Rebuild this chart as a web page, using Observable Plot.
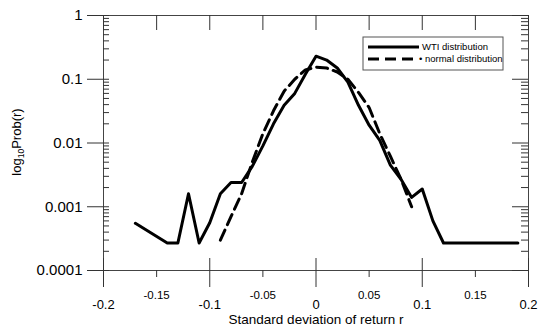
<!DOCTYPE html>
<html><head><meta charset="utf-8">
<script src="https://cdn.jsdelivr.net/npm/d3@7"></script>
<script src="https://cdn.jsdelivr.net/npm/@observablehq/plot@0.6"></script>
<style>
body{margin:0;background:#fff}
svg{font-family:"Liberation Sans",Arial,sans-serif}
</style>
</head><body><div id="chart"></div>
<script>
// WTI empirical distribution
const wtiX = [-0.17,-0.14,-0.13,-0.12,-0.11,-0.10,-0.09,-0.08,-0.07,-0.06,-0.05,-0.04,-0.03,-0.02,-0.01,0,0.01,0.02,0.03,0.04,0.05,0.06,0.07,0.08,0.09,0.10,0.11,0.12,0.19];
const wtiP = [0.00055,0.00027,0.00027,0.0016,0.00027,0.00056,0.0016,0.0024,0.0024,0.0043,0.009,0.02,0.039,0.06,0.12,0.23,0.2,0.15,0.09,0.039,0.019,0.011,0.0045,0.0027,0.0014,0.0019,0.0006,0.00027,0.00027];
// normal distribution
const normX = [-0.09,-0.08,-0.07,-0.06,-0.05,-0.04,-0.03,-0.02,-0.01,0,0.01,0.02,0.03,0.04,0.05,0.06,0.07,0.08,0.09];
const normP = [0.0003,0.0007,0.0016,0.005,0.014,0.032,0.065,0.1,0.14,0.155,0.15,0.13,0.1,0.062,0.036,0.014,0.0062,0.0027,0.001];

const xTicksMajor = [-0.2,-0.1,0,0.1,0.2];
const xLabelsMajor = ["-0.2","-0.1","0","0.1","0.2"];
const xTicksMinor = [-0.15,-0.05,0.05,0.15];
const xLabelsMinor = ["-0.15","-0.05","0.05","0.15"];
const yTicks = [1,0.1,0.01,0.001,0.0001];
const yLabels = ["1","0.1","0.01","0.001","0.0001"];
const yMinor = [];
for (const base of [0.0001,0.001,0.01,0.1]) for (let k = 2; k <= 9; k++) yMinor.push(base*k);

const seriesNames = ["WTI distribution","• normal distribution"];
const xTitle = "Standard deviation of return r";

const wti = wtiX.map((x,i)=>({x, p: wtiP[i]}));
const norm = normX.map((x,i)=>({x, p: normP[i]}));

const W = 538, H = 331, mL = 103, mR = 10, mT = 15, mB = 61;
const pw = W - mL - mR, ph = H - mT - mB;

const chart = Plot.plot({
  width: W, height: H, marginLeft: mL, marginRight: mR, marginTop: mT, marginBottom: mB,
  style: {background: "#fff", color: "#000", fontFamily: "'Liberation Sans', Arial, sans-serif"},
  x: {domain: [-0.2, 0.2], axis: null},
  y: {type: "log", domain: [1e-4, 1], axis: null},
  marks: [
    Plot.frame({stroke: "#444", strokeWidth: 1}),
    // y axis labels + outward major ticks
    Plot.axisY(yTicks, {anchor: "left", label: null, tickSize: 16, tickPadding: 5, fontSize: 15,
      stroke: "#333", tickFormat: d => yLabels[yTicks.indexOf(d)]}),
    // inward ticks on left and right
    Plot.tickY(yTicks, {y: d => d, insetRight: pw - 6, stroke: "#333"}),
    Plot.tickY(yMinor, {y: d => d, insetRight: pw - 6, stroke: "#333"}),
    Plot.tickY(yTicks, {y: d => d, insetLeft: pw - 16, stroke: "#333"}),
    Plot.tickY(yMinor, {y: d => d, insetLeft: pw - 7, stroke: "#333"}),
    // x axis
    Plot.axisX(xTicksMajor, {anchor: "bottom", label: null, tickSize: 17, tickPadding: 12, fontSize: 13,
      stroke: "#333", tickFormat: d => xLabelsMajor[xTicksMajor.indexOf(d)]}),
    Plot.axisX(xTicksMinor, {anchor: "bottom", label: null, tickSize: 7, tickPadding: 13, fontSize: 11.5,
      stroke: "#333", tickFormat: d => xLabelsMinor[xTicksMinor.indexOf(d)]}),
    Plot.tickX(xTicksMajor, {x: d => d, insetTop: ph - 12, stroke: "#333"}),
    Plot.tickX(xTicksMajor.concat(xTicksMinor), {x: d => d, insetBottom: ph - 15, stroke: "#333"}),
    Plot.text([xTitle], {frameAnchor: "bottom", dy: 53, fontSize: 13.5, fill: "#000"}),
    // data
    Plot.line(norm, {x: "x", y: "p", stroke: "#000", strokeWidth: 3, strokeDasharray: "11,6"}),
    Plot.line(wti, {x: "x", y: "p", stroke: "#000", strokeWidth: 3})
  ]
});
document.getElementById("chart").appendChild(chart);

const svg = d3.select(chart);
// y axis title with subscript
const yt = svg.append("text")
  .attr("transform", "translate(21,142) rotate(-90)")
  .attr("text-anchor", "middle")
  .attr("font-size", 13)
  .attr("fill", "#000");
yt.append("tspan").text("log");
yt.append("tspan").attr("font-size", 8.5).attr("dy", 3).text("10");
yt.append("tspan").attr("dy", -3).text("Prob(r)");

// legend
const lg = svg.append("g").attr("text-anchor", "start");
lg.append("rect").attr("x", 363).attr("y", 37).attr("width", 140).attr("height", 33)
  .attr("fill", "#fff").attr("stroke", "#555");
lg.append("line").attr("x1", 368).attr("x2", 419).attr("y1", 47).attr("y2", 47)
  .attr("stroke", "#000").attr("stroke-width", 3);
lg.append("line").attr("x1", 368).attr("x2", 415).attr("y1", 59).attr("y2", 59)
  .attr("stroke", "#000").attr("stroke-width", 3).attr("stroke-dasharray", "11,6");
lg.append("text").attr("x", 422).attr("y", 47).attr("dy", "0.35em").attr("font-size", 9.5)
  .attr("text-anchor", "start").attr("fill", "#000").text(seriesNames[0]);
lg.append("text").attr("x", 419).attr("y", 59).attr("dy", "0.35em").attr("font-size", 9.5)
  .attr("text-anchor", "start").attr("fill", "#000").text(seriesNames[1]);
</script>
</body></html>
